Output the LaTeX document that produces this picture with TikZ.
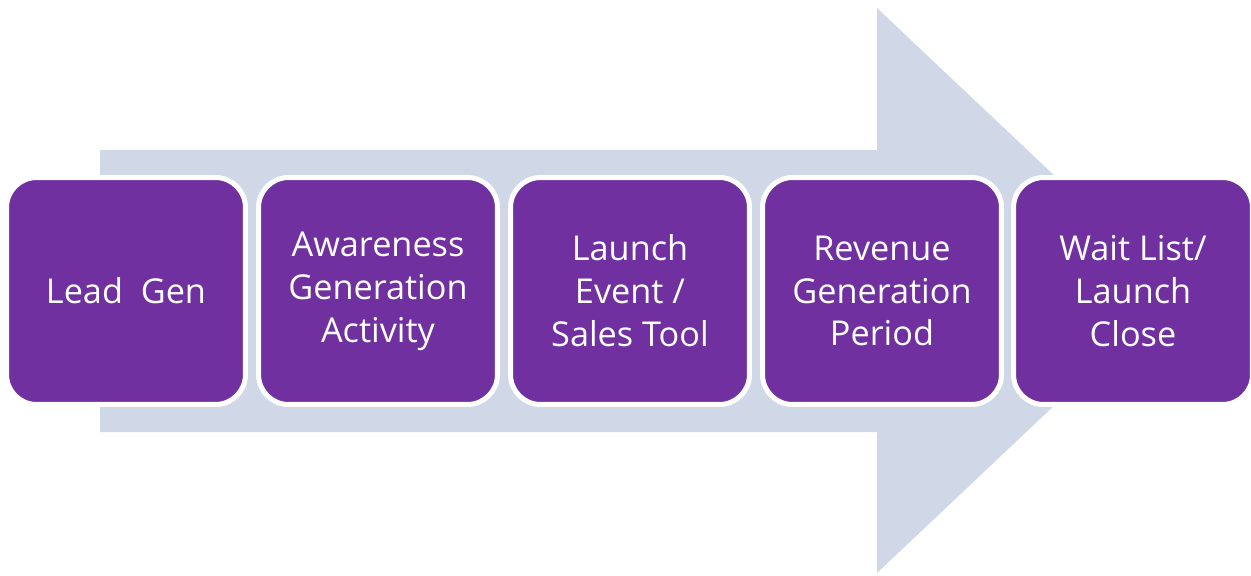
\documentclass[tikz,border=0pt]{standalone}
\usepackage{fontspec}
\setmainfont{Open Sans}
\usetikzlibrary{positioning}
\definecolor{stagepurple}{HTML}{7030A0}
\definecolor{flowgrey}{HTML}{D0D8E8}
\tikzset{
	stage/.style={
		draw=white, line width=0.1cm, fill=stagepurple, rounded corners=0.6cm,
		minimum width=4.78cm, minimum height=4.54cm, inner sep=0pt,
		text=white, align=center, font=\fontsize{19.5}{24.4}\selectfont
	}
}

\begin{document}
\begin{tikzpicture}[x=0.02cm, y=-0.02cm]
	\useasboundingbox (0, 0) rectangle (1251, 575);

	% --- big arrow behind ---
	\fill[flowgrey] (100, 150) -- (877, 150) -- (877, 8) -- (1176, 290.5)
		-- (877, 573) -- (877, 432) -- (100, 432) -- cycle;

	% --- stages ---
	\node[stage] (lead)    at (126, 291)  {Lead~~Gen};
	\node[stage] (aware)   at (378, 291)  {Awareness\\Generation\\Activity};
	\node[stage] (launch)  at (630, 291)  {Launch\\Event /\\Sales Tool};
	\node[stage] (revenue) at (882, 291)  {Revenue\\Generation\\Period};
	\node[stage] (close)   at (1133, 291) {Wait List/\\Launch\\Close};

\end{tikzpicture}
\end{document}
